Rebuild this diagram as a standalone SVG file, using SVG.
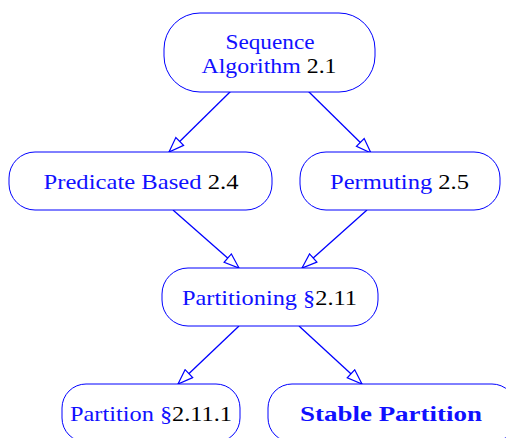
<svg xmlns="http://www.w3.org/2000/svg" width="506" height="438" viewBox="0 0 506 438">
  <defs>
    <style>
      .node { fill: #ffffff; stroke: #0000ff; stroke-width: 1; }
      .lbl { font-family: "Liberation Serif", "Times New Roman", serif; font-size: 21px; fill: #1010ff; }
      .num { fill: #000000; }
      .bold { font-weight: bold; }
      .edge { fill: none; stroke: #0000ff; stroke-width: 1.3; marker-end: url(#open); }
    </style>
    <marker id="open" viewBox="-1 -1 17 13" refX="15" refY="5.5" markerWidth="17" markerHeight="13" markerUnits="userSpaceOnUse" orient="auto">
      <path d="M0,0 L15,5.5 L0,11 Z" fill="#ffffff" stroke="#0000ff" stroke-width="1.2" stroke-linejoin="miter"/>
    </marker>
  </defs>

  <g id="connectors">
    <line class="edge" x1="231" y1="91" x2="169" y2="152"/>
    <line class="edge" x1="308" y1="91" x2="371" y2="153"/>
    <line class="edge" x1="173" y1="210" x2="239" y2="268"/>
    <line class="edge" x1="367" y1="210" x2="302" y2="268"/>
    <line class="edge" x1="239" y1="326" x2="178" y2="384"/>
    <line class="edge" x1="299" y1="326" x2="362" y2="384"/>
  </g>

  <g id="sequence-algorithm">
    <rect class="node" x="164" y="13" width="211" height="79" rx="36" ry="36"/>
    <text class="lbl" x="225.5" y="49" textLength="89" lengthAdjust="spacingAndGlyphs">Sequence</text>
    <text class="lbl" x="201.5" y="73" textLength="135" lengthAdjust="spacingAndGlyphs">Algorithm <tspan class="num">2.1</tspan></text>
  </g>

  <g id="predicate-based">
    <rect class="node" x="9" y="152" width="263" height="58" rx="26" ry="26"/>
    <text class="lbl" x="43.5" y="189" textLength="195" lengthAdjust="spacingAndGlyphs">Predicate Based <tspan class="num">2.4</tspan></text>
  </g>

  <g id="permuting">
    <rect class="node" x="300" y="152" width="200" height="58" rx="26" ry="26"/>
    <text class="lbl" x="330" y="189" textLength="139" lengthAdjust="spacingAndGlyphs">Permuting <tspan class="num">2.5</tspan></text>
  </g>

  <g id="partitioning">
    <rect class="node" x="162" y="268" width="216" height="58" rx="26" ry="26"/>
    <text class="lbl" x="182" y="305" textLength="175" lengthAdjust="spacingAndGlyphs">Partitioning §<tspan class="num">2.11</tspan></text>
  </g>

  <g id="partition">
    <rect class="node" x="62" y="384" width="178" height="58" rx="24" ry="24"/>
    <text class="lbl" x="70" y="421" textLength="162" lengthAdjust="spacingAndGlyphs">Partition §<tspan class="num">2.11.1</tspan></text>
  </g>

  <g id="stable-partition">
    <rect class="node" x="268" y="384" width="248" height="58" rx="24" ry="24"/>
    <text class="lbl bold" x="300" y="421" textLength="182" lengthAdjust="spacingAndGlyphs">Stable Partition</text>
  </g>
</svg>
